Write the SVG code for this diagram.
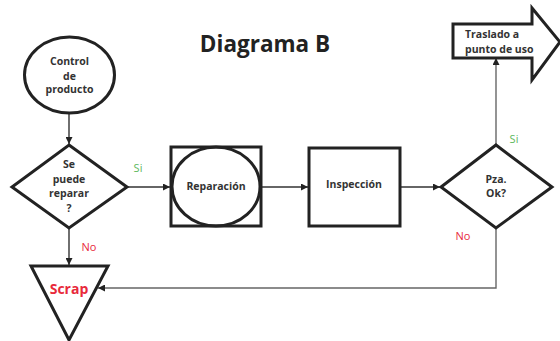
<svg xmlns="http://www.w3.org/2000/svg" width="560" height="341" viewBox="0 0 560 341">
  <style>
    .shape { fill: #fff; stroke: #222; stroke-width: 3; }
    .lbl { font-family: "Open Sans", "Liberation Sans", sans-serif; font-weight: bold; font-size: 10.5px; fill: #333; text-anchor: middle; }
    .lbl-left { font-family: "Open Sans", "Liberation Sans", sans-serif; font-weight: bold; font-size: 10.5px; fill: #333; text-anchor: start; }
    .conn { fill: none; stroke: #333; stroke-width: 1.4; }
    .connGray { fill: none; stroke: #666; stroke-width: 1.4; }
    .yes { font-family: "Open Sans", "Liberation Sans", sans-serif; font-size: 11px; fill: #5cb85c; text-anchor: middle; }
    .no { font-family: "Open Sans", "Liberation Sans", sans-serif; font-size: 11px; fill: #e8293b; text-anchor: middle; }
  </style>
  <defs>
    <marker id="arrow" viewBox="0 0 10 10" refX="10" refY="5" markerWidth="7" markerHeight="7" markerUnits="userSpaceOnUse" orient="auto">
      <path d="M0,0 L10,5 L0,10 Z" fill="#222"/>
    </marker>
  </defs>
  <rect width="560" height="341" fill="#fff"/>

  <text x="265" y="52" font-family="Open Sans, Liberation Sans, sans-serif" font-weight="bold" font-size="22.5" fill="#222" text-anchor="middle">Diagrama B</text>

  <g id="connectors">
    <line class="conn" x1="69" y1="113" x2="69" y2="144" marker-end="url(#arrow)"/>
    <line class="conn" x1="127" y1="187" x2="170" y2="187" marker-end="url(#arrow)"/>
    <line class="conn" x1="69" y1="228" x2="69" y2="265" marker-end="url(#arrow)"/>
    <line class="conn" x1="261" y1="187" x2="308" y2="187" marker-end="url(#arrow)"/>
    <line class="conn" x1="400" y1="187" x2="440" y2="187" marker-end="url(#arrow)"/>
    <line class="connGray" x1="496" y1="145" x2="496" y2="58" marker-end="url(#arrow)"/>
    <polyline class="connGray" points="496,228 496,288 98,288" marker-end="url(#arrow)"/>
  </g>

  <g id="control">
    <ellipse class="shape" cx="69.5" cy="75" rx="45" ry="38"/>
    <text class="lbl" x="69.5" y="65">Control</text>
    <text class="lbl" x="69.5" y="80">de</text>
    <text class="lbl" x="69.5" y="93">producto</text>
  </g>

  <g id="reparable">
    <polygon class="shape" points="69,145 127,187 69,228 12,187"/>
    <text class="lbl" x="69" y="168">Se</text>
    <text class="lbl" x="69" y="183">puede</text>
    <text class="lbl" x="69" y="197">reparar</text>
    <text class="lbl" x="69" y="212">?</text>
  </g>
  <text class="yes" x="138" y="172">Si</text>
  <text class="no" x="89" y="251">No</text>

  <g id="scrap">
    <polygon class="shape" points="31,266 108,266 69,340"/>
    <text x="69" y="294" font-family="Open Sans, Liberation Sans, sans-serif" font-weight="bold" font-size="14" fill="#e8293b" text-anchor="middle">Scrap</text>
  </g>

  <g id="reparacion">
    <rect class="shape" x="171" y="147" width="90" height="79"/>
    <ellipse fill="none" stroke="#222" stroke-width="3" cx="216" cy="186.5" rx="44" ry="39.5"/>
    <text class="lbl" x="216" y="190">Reparación</text>
  </g>

  <g id="inspeccion">
    <rect class="shape" x="309" y="148" width="91" height="78"/>
    <text class="lbl" x="354" y="188">Inspección</text>
  </g>

  <g id="pza-ok">
    <polygon class="shape" points="496,145 552,187 496,228 441,187"/>
    <text class="lbl" x="496" y="183">Pza.</text>
    <text class="lbl" x="496" y="197">Ok?</text>
  </g>
  <text class="yes" x="514" y="143">Si</text>
  <text class="no" x="463" y="240">No</text>

  <g id="traslado">
    <polygon class="shape" points="453,24 532,24 532,8 560,42 532,80 532,58 453,58"/>
    <text class="lbl-left" x="465" y="38">Traslado a</text>
    <text class="lbl-left" x="465" y="53">punto de uso</text>
  </g>
</svg>
